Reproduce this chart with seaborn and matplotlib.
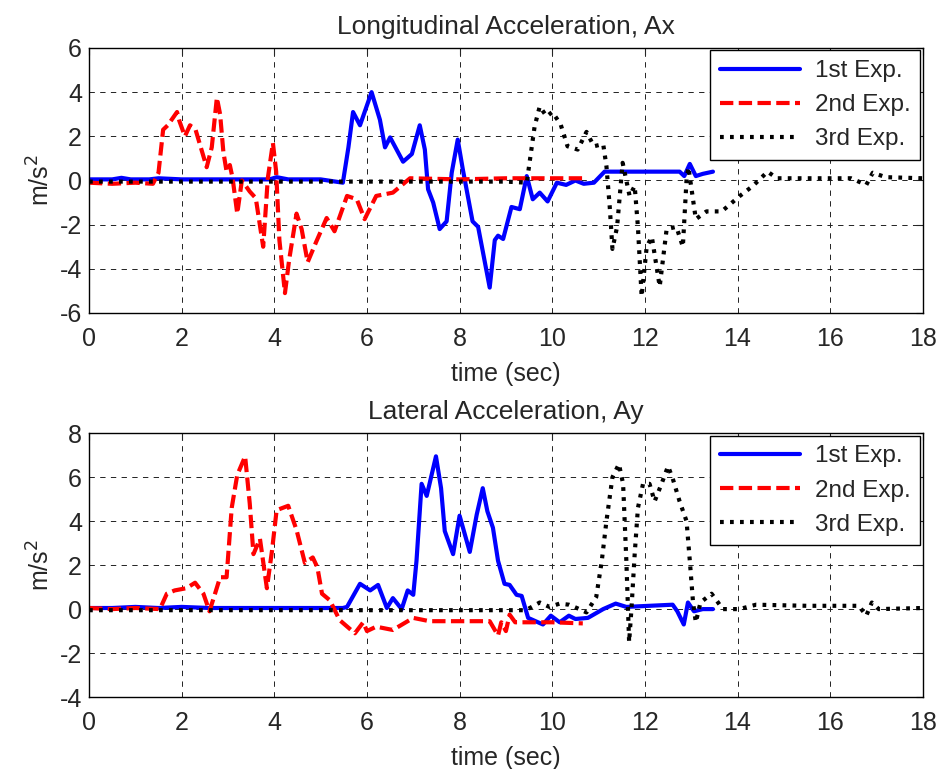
import numpy as np
import pandas as pd
import matplotlib
matplotlib.use("Agg")
import matplotlib.pyplot as plt
import seaborn as sns

# ---- data ----
labels = ["1st Exp.", "2nd Exp.", "3rd Exp."]

# Longitudinal acceleration, Ax
t_ax1 = [0, 0.5, 0.7, 0.9, 1.3, 1.5, 2.0, 3.0, 3.9, 4.05, 4.3, 5.0, 5.48, 5.6, 5.7,
         5.85, 6.1, 6.28, 6.39, 6.5, 6.78, 6.97, 7.14, 7.25, 7.32, 7.43, 7.57, 7.72, 7.83, 7.96,
         8.07, 8.28, 8.4, 8.65, 8.76, 8.83, 8.94, 9.12, 9.3, 9.45, 9.58, 9.73, 9.9, 10.1, 10.3,
         10.5, 10.68, 10.9, 11.13, 11.5, 12.0, 12.75, 12.85, 12.97, 13.1, 13.25, 13.47]
ax1 = [0.05, 0.05, 0.12, 0.05, 0.05, 0.1, 0.05, 0.05, 0.05, 0.15, 0.05, 0.05, -0.1, 1.5, 3.1,
       2.5, 4.0, 2.75, 1.5, 1.95, 0.85, 1.2, 2.5, 1.4, -0.4, -1.0, -2.2, -1.85, 0.35, 1.85,
       0.5, -1.85, -2.1, -4.85, -2.7, -2.5, -2.65, -1.2, -1.3, 0.2, -0.85, -0.55, -0.95, -0.1, -0.2,
       0.0, -0.15, -0.1, 0.4, 0.4, 0.4, 0.4, 0.2, 0.75, 0.2, 0.3, 0.4]

t_ax2 = [0, 0.5, 1.0, 1.38, 1.5, 1.6, 1.7, 1.9, 1.95, 2.07, 2.18, 2.3, 2.54, 2.65, 2.76,
         2.83, 2.9, 2.97, 3.04, 3.1, 3.2, 3.3, 3.47, 3.6, 3.76, 3.86, 3.97, 4.04, 4.11, 4.23,
         4.32, 4.48, 4.59, 4.72, 4.9, 5.13, 5.3, 5.57, 5.78, 5.95, 6.2, 6.56, 6.93, 8.0, 9.0,
         10.0, 10.7]
ax2 = [-0.1, -0.15, -0.1, -0.15, 0.35, 2.3, 2.5, 3.1, 2.7, 2.0, 2.5, 2.3, 0.6, 1.5, 3.75,
       3.0, 1.3, 0.4, 0.7, 0.1, -1.5, 0.0, -0.5, -0.8, -3.0, 0.1, 1.7, 0.4, -2.7, -5.1,
       -3.6, -1.5, -2.2, -3.7, -2.8, -1.7, -2.3, -0.7, -0.85, -1.75, -0.7, -0.55, 0.1, 0.05, 0.1,
       0.1, 0.1]

t_ax3 = [0, 3.0, 6.0, 9.0, 9.45, 9.5, 9.62, 9.73, 9.88, 10.0, 10.18, 10.33, 10.55, 10.74, 10.9,
         11.1, 11.17, 11.24, 11.3, 11.4, 11.52, 11.67, 11.78, 11.85, 11.93, 12.04, 12.15, 12.32,
         12.47, 12.68, 12.82, 12.9, 12.94, 13.1, 13.33, 13.66, 14.05, 14.33, 14.65, 14.85, 15.3,
         16.45, 16.78, 16.92, 17.2, 18.0]
ax3 = [-0.05, -0.05, -0.05, -0.05, -0.1, 0.65, 2.45, 3.35, 2.9, 3.1, 2.55, 1.55, 1.4, 2.2, 1.55,
       1.65, 0.65, -1.15, -3.1, -2.1, 0.8, -0.7, -0.25, -2.1, -5.25, -3.0, -2.55, -4.8,
       -2.2, -2.1, -3.0, 0.05, 0.6, -1.75, -1.4, -1.4, -0.7, -0.25, 0.4, 0.1, 0.1,
       0.1, -0.2, 0.35, 0.15, 0.1]

# Lateral acceleration, Ay
t_ay1 = [0, 0.5, 1.0, 1.5, 2.0, 2.6, 3.0, 4.0, 5.0, 5.48, 5.57, 5.85, 6.07, 6.24, 6.43,
         6.56, 6.75, 6.88, 7.0, 7.07, 7.18, 7.29, 7.49, 7.6, 7.68, 7.86, 8.0, 8.22, 8.37, 8.5,
         8.6, 8.72, 8.83, 8.97, 9.08, 9.23, 9.34, 9.48, 9.8, 9.97, 10.16, 10.36, 10.5, 10.77, 11.1,
         11.37, 11.6, 12.6, 12.7, 12.84, 12.93, 13.06, 13.25, 13.47]
ay1 = [0.05, 0.05, 0.1, 0.05, 0.1, 0.05, 0.05, 0.05, 0.05, 0.05, 0.1, 1.15, 0.85, 1.1, 0.05,
       0.5, 0.0, 0.85, 0.65, 2.2, 5.7, 5.15, 6.95, 5.5, 3.55, 2.5, 4.25, 2.6, 4.3, 5.5,
       4.45, 3.7, 2.2, 1.15, 1.1, 0.65, 0.6, -0.4, -0.7, -0.3, -0.6, -0.3, -0.45, -0.4, 0.0,
       0.25, 0.1, 0.2, -0.1, -0.7, 0.3, -0.1, 0.0, 0.0]

t_ay2 = [0, 0.5, 1.0, 1.53, 1.68, 1.85, 2.1, 2.29, 2.47, 2.6, 2.72, 2.83, 2.97, 3.08, 3.2,
         3.37, 3.47, 3.55, 3.69, 3.84, 3.95, 4.05, 4.3, 4.48, 4.66, 4.83, 4.93, 5.03, 5.2, 5.41,
         5.74, 5.92, 6.0, 6.2, 6.56, 7.0, 7.35, 8.65, 8.83, 8.9, 9.0, 9.08, 9.2, 9.37, 10.0, 10.66]
ay2 = [0.05, 0.0, 0.05, 0.0, 0.7, 0.85, 0.95, 1.2, 0.7, -0.1, 0.7, 1.45, 1.45, 4.6, 6.1,
       6.95, 4.8, 2.5, 3.2, 0.95, 2.65, 4.5, 4.7, 3.6, 2.1, 2.35, 1.9, 0.7, 0.4, -0.5,
       -1.1, -0.6, -1.0, -0.8, -0.95, -0.4, -0.55, -0.55, -1.2, -0.6, -1.0, -0.25, -0.6, -0.6, -0.6, -0.65]

t_ay3 = [0, 3.0, 6.0, 9.43, 9.73, 9.94, 10.16, 10.36, 10.53, 10.74, 10.95, 11.07, 11.17, 11.3, 11.44,
         11.53, 11.6, 11.66, 11.71, 11.78, 11.85, 11.96, 12.1, 12.21, 12.36, 12.5, 12.6, 12.75, 12.9, 12.97,
         13.04, 13.1, 13.2, 13.44, 13.58, 13.68, 14.04, 14.4, 15.5, 16.62, 16.78, 16.9, 17.05, 18.0]
ay3 = [-0.05, -0.05, -0.05, -0.05, 0.3, 0.1, 0.25, 0.2, 0.05, -0.15, 0.55, 2.2, 4.0, 6.0, 6.6,
       5.7, 2.2, -1.5, 0.0, 2.5, 4.6, 5.7, 5.7, 4.9, 5.7, 6.5, 5.95, 4.9, 4.0, 2.2,
       0.3, -0.6, 0.3, 0.7, 0.3, 0.0, 0.0, 0.2, 0.15, 0.15, -0.3, 0.3, 0.0, 0.05]

sns.set_style("white")
plt.rcParams["font.family"] = ["Liberation Sans", "DejaVu Sans"]
plt.rcParams["axes.unicode_minus"] = False

colors = ["#0000ff", "#ff0000", "#000000"]
styles = ["-", (0, (3.2, 1.3)), (0, (0.9, 1.5))]

fig = plt.figure(figsize=(9.4, 7.69), dpi=100)
ax_top = fig.add_axes([0.0947, 0.593, 0.887, 0.3446])
ax_bot = fig.add_axes([0.0947, 0.0936, 0.887, 0.343])


def draw_panel(ax, series, title, ylim, yticks):
    for (t, v), lab, c, ls in zip(series, labels, colors, styles):
        sns.lineplot(x=t, y=v, ax=ax, color=c, linestyle=ls, linewidth=3.0,
                     label=lab, estimator=None, sort=False)
    ax.set_xlim(0, 18)
    ax.set_ylim(*ylim)
    ax.set_xticks(range(0, 19, 2))
    ax.set_yticks(yticks)
    ax.grid(True, color="#222222", linestyle=(0, (5.5, 5.5)), linewidth=0.7)
    ax.tick_params(direction="in", top=True, right=True, length=5, width=0.8,
                   labelsize=18, pad=5)
    ax.tick_params(axis="x", pad=10)
    for s in ax.spines.values():
        s.set_color("k")
        s.set_linewidth(1.0)
    ax.set_title(title, fontsize=19, pad=10)
    ax.set_xlabel("time (sec)", fontsize=18, labelpad=8)
    ax.set_ylabel("m/s$^2$", fontsize=18, labelpad=4)
    leg = ax.legend(loc="upper right", fontsize=17.5, handlelength=3.3, labelspacing=0.5,
                    borderaxespad=0.1, fancybox=False, framealpha=1, edgecolor="k",
                    borderpad=0.4, handletextpad=0.6)
    leg.get_frame().set_linewidth(1.0)


draw_panel(ax_top, [(t_ax1, ax1), (t_ax2, ax2), (t_ax3, ax3)],
           "Longitudinal Acceleration, Ax", (-6, 6), range(-6, 7, 2))
draw_panel(ax_bot, [(t_ay1, ay1), (t_ay2, ay2), (t_ay3, ay3)],
           "Lateral Acceleration, Ay", (-4, 8), range(-4, 9, 2))

fig.savefig("out.png", dpi=100)
